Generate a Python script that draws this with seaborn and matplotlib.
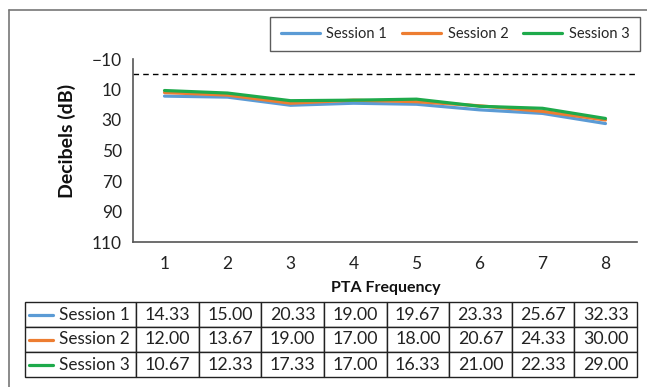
import matplotlib
matplotlib.use("Agg")
import matplotlib.pyplot as plt
from matplotlib.lines import Line2D
import seaborn as sns
import pandas as pd

frequencies = [1, 2, 3, 4, 5, 6, 7, 8]
session_names = ["Session 1", "Session 2", "Session 3"]
session1 = [14.33, 15.00, 20.33, 19.00, 19.67, 23.33, 25.67, 32.33]
session2 = [12.00, 13.67, 19.00, 17.00, 18.00, 20.67, 24.33, 30.00]
session3 = [10.67, 12.33, 17.33, 17.00, 16.33, 21.00, 22.33, 29.00]
y_ticks = [-10, 10, 30, 50, 70, 90, 110]
reference_level = 0

colors = ["#5B9BD5", "#ED7D31", "#1EAA4B"]

rows = []
for name, vals in zip(session_names, [session1, session2, session3]):
    for f, v in zip(frequencies, vals):
        rows.append({"freq": f, "db": v, "session": name})
df = pd.DataFrame(rows)

sns.set_style("white")
plt.rcParams["font.family"] = ["Lato", "DejaVu Sans"]

W, H = 647, 387
fig = plt.figure(figsize=(W / 100, H / 100), dpi=100)

def fx(px):
    return px / W

def fy(py):
    return 1 - py / H

ax_left, ax_right, ax_top, ax_bot = 133, 637, 59, 242
ax = fig.add_axes([fx(ax_left), fy(ax_bot), fx(ax_right - ax_left), (ax_bot - ax_top) / H])

sns.lineplot(data=df, x="freq", y="db", hue="session", palette=colors,
             linewidth=2.3, ax=ax, legend=False, hue_order=session_names)
ax.axhline(reference_level, color="black", lw=1.0, dashes=(4, 3))

ax.set_xlim(0.5, 8.5)
ax.set_ylim(110, -10)
ax.set_yticks(y_ticks)
ax.set_xticks(frequencies)
ax.set_xticks([f + 0.5 for f in [0] + frequencies], minor=True)
ax.tick_params(axis="x", which="major", length=0, pad=10, labelsize=12.5, colors="#222222")
ax.tick_params(axis="x", which="minor", length=5, width=1, color="#444444", direction="out")
ax.tick_params(axis="y", which="major", length=5, width=1, color="#444444", direction="out",
               labelsize=12.5, labelcolor="#222222", pad=3)
for s in ["top", "right"]:
    ax.spines[s].set_visible(False)
for s in ["left", "bottom"]:
    ax.spines[s].set_color("#555555")
    ax.spines[s].set_linewidth(1.2)
ax.set_xlabel("")
ax.set_ylabel("")

fig.text(fx(67), fy(141), "Decibels (dB)", rotation=90, fontsize=14, fontweight="bold",
         ha="center", va="center", color="#111111")
fig.text(fx(386), fy(288), "PTA Frequency", fontsize=11.5, fontweight="bold",
         ha="center", va="center", color="#111111")

# legend
handles = [Line2D([], [], color=c, lw=2.3) for c in colors]
leg = fig.legend(handles, session_names, loc="upper right", bbox_to_anchor=(fx(640), fy(17)),
                 ncol=3, frameon=True, fancybox=False, fontsize=10.5, handlelength=2.7,
                 columnspacing=1.0, handletextpad=0.45, borderpad=0.7, borderaxespad=0)
leg.get_frame().set_edgecolor("#333333")
leg.get_frame().set_linewidth(1.0)

# table
t_left, t_right, t_top, t_bot = 25, 637, 302, 377
tab_ax = fig.add_axes([fx(t_left), fy(t_bot), fx(t_right - t_left), (t_bot - t_top) / H])
tab_ax.axis("off")
first_w = 136 - t_left
col_w = (t_right - 136) / len(frequencies)
widths = [first_w / (t_right - t_left)] + [col_w / (t_right - t_left)] * len(frequencies)
cell_text = []
for name, vals in zip(session_names, [session1, session2, session3]):
    cell_text.append([name] + [f"{v:.2f}" for v in vals])
table = tab_ax.table(cellText=cell_text, colWidths=widths, bbox=[0, 0, 1, 1], cellLoc="center")
table.auto_set_font_size(False)
for (r, c), cell in table.get_celld().items():
    cell.set_edgecolor("#222222")
    cell.set_linewidth(1.0)
    cell.get_text().set_fontsize(12.8)
    cell.get_text().set_color("#222222")
    if c == 0:
        cell.get_text().set_fontsize(12.3)
        cell.get_text().set_ha("left")
        cell.PAD = 34 / first_w
n = len(session_names)
for i, c in enumerate(colors):
    yc = 1 - (i + 0.5) / n
    tab_ax.add_line(Line2D([4 / (t_right - t_left), 28 / (t_right - t_left)], [yc, yc],
                           color=c, lw=2.3, transform=tab_ax.transAxes))

# outer frame
fig.add_artist(Line2D([fx(9), fx(9)], [0, fy(10)], color="#777777", lw=1.2, transform=fig.transFigure))
fig.add_artist(Line2D([fx(9), 1], [fy(10), fy(10)], color="#777777", lw=1.2, transform=fig.transFigure))

fig.savefig("out.png", dpi=100)
